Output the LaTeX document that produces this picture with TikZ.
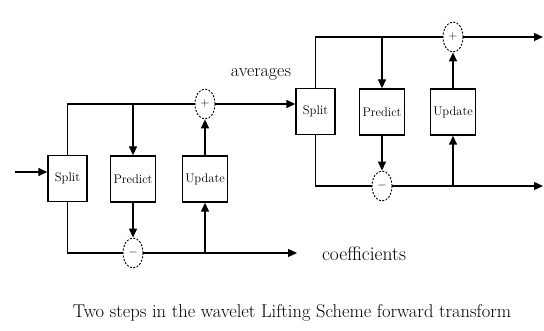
\documentclass[tikz,border=0pt]{standalone}
\usetikzlibrary{arrows.meta,positioning,shapes.geometric}

\begin{document}
\begin{tikzpicture}[x=1pt,y=-1pt,
    line width=1.4pt,
    blk/.style={draw,minimum width=45pt,minimum height=46pt,inner sep=0pt,
                 font=\fontsize{12.5}{12.5}\selectfont},
    op/.style={draw,ellipse,dash pattern=on 2pt off 1.5pt,line width=0.9pt,
                 minimum width=20pt,minimum height=30pt,inner sep=0pt,
                 font=\fontsize{12}{12}\selectfont},
    arr/.style={-{Triangle[length=9pt,width=8pt]}},
    lbl/.style={font=\fontsize{18}{18}\selectfont},
  ]
    \useasboundingbox (0,0) rectangle (544,331);
    % first step
    \node[blk,minimum width=39pt] (split1) at (67.5,178.5) {Split};
    \node[blk] (predict1) at (133,179) {Predict};
    \node[blk] (update1) at (205,179) {Update};
    \node[op] (plus1) at (205,104) {$+$};
    \node[op] (minus1) at (133,253) {$-$};
    % second step
    \node[blk,minimum width=39pt] (split2) at (315.5,111.5) {Split};
    \node[blk] (predict2) at (382,112) {Predict};
    \node[blk] (update2) at (453,112) {Update};
    \node[op] (plus2) at (453,37) {$+$};
    \node[op] (minus2) at (382,186) {$-$};
    \coordinate (in1) at (15,172);
    \coordinate (coef1) at (297,253);
    \coordinate (avg2) at (543,37);
    \coordinate (coef2) at (543,186);
    \draw[arr] (in1) -- (in1 -| split1.west);
    \draw (split1.north) |- (plus1.west);
    \draw (split1.south) |- (minus1.west);
    \draw[arr] (predict1.north |- plus1) -- (predict1.north);
    \draw[arr] (predict1.south) -- (minus1.north);
    \draw[arr] (update1.south |- minus1) -- (update1.south);
    \draw[arr] (update1.north) -- (plus1.south);
    \draw[arr] (plus1.east) -- (plus1.east -| split2.west);
    \draw[arr] (minus1.east) -- (coef1);
    \draw (split2.north) |- (plus2.west);
    \draw (split2.south) |- (minus2.west);
    \draw[arr] (predict2.north |- plus2) -- (predict2.north);
    \draw[arr] (predict2.south) -- (minus2.north);
    \draw[arr] (update2.south |- minus2) -- (update2.south);
    \draw[arr] (update2.north) -- (plus2.south);
    \draw[arr] (plus2.east) -- (avg2);
    \draw[arr] (minus2.east) -- (coef2);
    % labels
    \node[lbl] (avglbl) at (261,74) {averages};
    \node[lbl,font=\fontsize{19.5}{19.5}\selectfont] (coeflbl) at (364,254) {coefficients};
    \node[lbl,font=\fontsize{18.5}{18.5}\selectfont] (caption) at (292,313) {Two steps in the wavelet Lifting Scheme forward transform};
  \end{tikzpicture}
\end{document}
